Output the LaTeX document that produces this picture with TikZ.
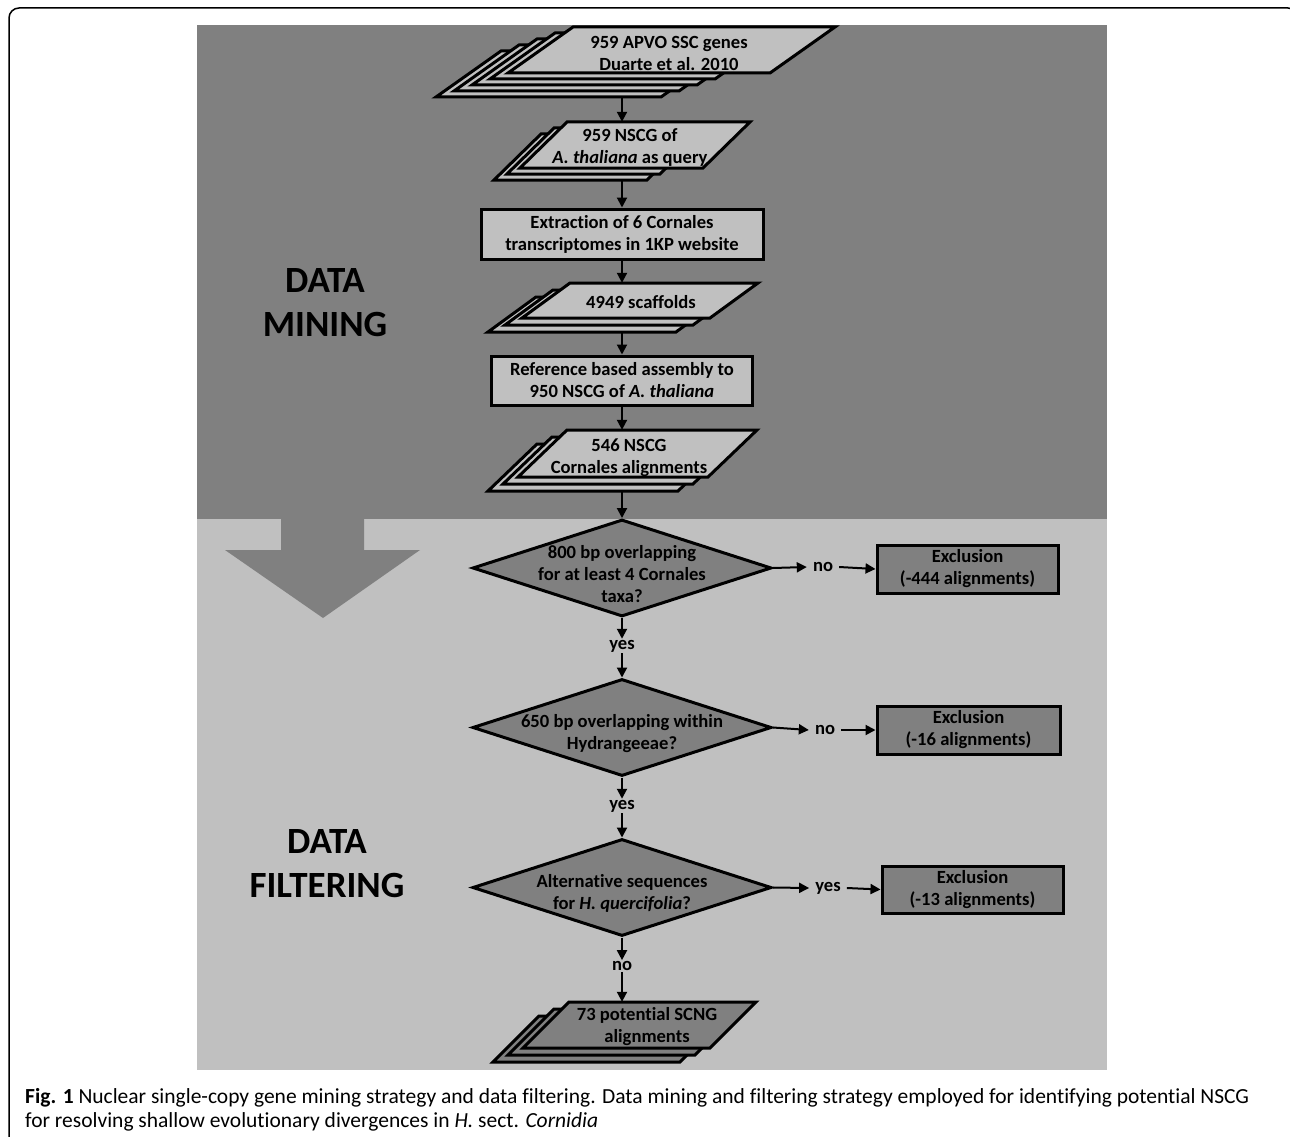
\documentclass[tikz,border=0pt]{standalone}
\usepackage{fontspec}
\setmainfont{Carlito}[Ligatures=NoCommon]
\usepackage{tikz}
\usetikzlibrary{shapes.geometric, arrows.meta}

\definecolor{paneldark}{HTML}{808080}
\definecolor{panellight}{HTML}{C0C0C0}

\newcommand{\boxfont}{\fontsize{18.6}{22}\selectfont\bfseries}

\tikzset{
    sheet/.style={draw=black, line width=3pt, fill=panellight},
    darksheet/.style={sheet, fill=paneldark},
    sheettext/.style={rectangle, inner sep=0pt, align=center, font=\boxfont},
    process/.style={rectangle, draw=black, line width=3pt, fill=panellight, inner sep=0pt, align=center, font=\boxfont},
    exclusion/.style={process, fill=paneldark, minimum width=181pt, minimum height=48pt},
    decision/.style={diamond, draw=black, line width=3pt, fill=paneldark, inner sep=0pt, minimum width=299pt, minimum height=97pt},
    question/.style={sheettext, yshift=-6pt},
    answer/.style={inner xsep=6pt, inner ysep=1pt, font=\boxfont},
    flow/.style={line width=2pt, -{Triangle[length=10pt, width=10pt]}},
    phase/.style={align=center, font=\fontsize{37}{44}\selectfont\bfseries}
}

\begin{document}
\begin{tikzpicture}[x=1pt, y={(0,-1pt)}]
    \useasboundingbox (0,0) rectangle (1290,1137);
    \draw[line width=1.5pt, rounded corners=10pt] (9,1150) -- (9,8) -- (1298,8) -- (1298,1150);

    \fill[paneldark] (197,25) rectangle (1107,519);
    \fill[panellight] (197,519) rectangle (1107,1070);
    \fill[paneldark] (281,519) -- (364,519) -- (364,550) -- (420,550) -- (323,618) -- (225,550) -- (281,550) -- cycle;

    \node[phase] (mining) at (325,303) {DATA\\MINING};
    \node[phase] (filtering) at (327,864) {DATA\\FILTERING};

    \foreach \k in {4,3,2,1}
        \draw[sheet, shift={(-18*\k,6*\k)}] (508,73) -- ++(225,0) -- ++(65,-46) -- ++(-225,0) -- cycle;
    \draw[sheet] (508,73) -- ++(262,0) -- ++(65,-46) -- ++(-262,0) -- cycle;
    \node[sheettext, minimum height=52pt] (genes) at (669,53) {959 APVO SSC genes\\Duarte et al. 2010};
    \coordinate (genes-out) at (622,97);

    \foreach \k in {2,1}
        \draw[sheet, shift={(-13*\k,6*\k)}] (520,168) -- ++(153,0) -- ++(47,-46) -- ++(-153,0) -- cycle;
    \draw[sheet] (520,168) -- ++(183,0) -- ++(47,-46) -- ++(-183,0) -- cycle;
    \node[sheettext, minimum height=52pt] (query) at (630,148) {959 NSCG of\\\textit{A. thaliana} as query};
    \coordinate (query-out) at (622,180);

    \node[process, minimum width=282pt, minimum height=50pt] (extract) at (622,234) {Extraction of 6 Cornales\\transcriptomes in 1KP website};

    \foreach \k in {2,1}
        \draw[sheet, shift={(-17*\k,7*\k)}] (522,318) -- ++(188,0) -- ++(48,-35) -- ++(-188,0) -- cycle;
    \draw[sheet] (522,318) -- ++(188,0) -- ++(48,-35) -- ++(-188,0) -- cycle;
    \node[sheettext, minimum height=39pt] (scaffolds) at (641,302.5) {4949 scaffolds};
    \coordinate (scaffolds-out) at (622,332);

    \node[process, minimum width=261pt, minimum height=49pt] (assembly) at (622,380.5) {Reference based assembly to\\950 NSCG of \textit{A. thaliana}};

    \foreach \k in {2,1}
        \draw[sheet, shift={(-15*\k,7*\k)}] (518,477) -- ++(190,0) -- ++(49,-47) -- ++(-190,0) -- cycle;
    \draw[sheet] (518,477) -- ++(190,0) -- ++(49,-47) -- ++(-190,0) -- cycle;
    \node[sheettext, minimum height=56pt] (cornales) at (629,458) {546 NSCG\\Cornales alignments};
    \coordinate (cornales-out) at (622,491);

    \node[decision, label={[question]center:{800 bp overlapping\\for at least 4 Cornales\\taxa?}}] (overlap800) at (622,568) {};
    \node[answer] (no800) at (823,567) {no};
    \node[exclusion] (excl444) at (967.5,569) {Exclusion\\(-444 alignments)};
    \node[answer] (yes800) at (622,646) {yes};

    \node[decision, label={[question]center:{650 bp overlapping within\\Hydrangeeae?}}] (overlap650) at (622,727.5) {};
    \node[answer] (no650) at (825,730) {no};
    \node[exclusion, minimum width=183pt] (excl16) at (968.5,730) {Exclusion\\(-16 alignments)};
    \node[answer] (yes650) at (622,806) {yes};

    \node[decision, label={[question]center:{Alternative sequences\\for \textit{H. quercifolia}?}}] (altseq) at (622,887.5) {};
    \node[answer] (yesalt) at (828,888) {yes};
    \node[exclusion, minimum height=47pt] (excl13) at (972.5,889.5) {Exclusion\\(-13 alignments)};
    \node[answer] (noalt) at (622,966) {no};

    \foreach \k in {2,1}
        \draw[darksheet, shift={(-15*\k,7*\k)}] (523,1048) -- ++(187,0) -- ++(46,-46) -- ++(-187,0) -- cycle;
    \draw[darksheet] (523,1048) -- ++(187,0) -- ++(46,-46) -- ++(-187,0) -- cycle;
    \node[sheettext, minimum height=50pt] (scng) at (647,1027) {73 potential SCNG\\alignments};

    \draw[flow] (genes-out) -- (genes-out |- query.north);
    \draw[flow] (query-out) -- (query-out |- extract.north);
    \draw[flow] (extract.south) -- (extract.south |- scaffolds.north);
    \draw[flow] (scaffolds-out) -- (scaffolds-out |- assembly.north);
    \draw[flow] (assembly.south) -- (assembly.south |- cornales.north);
    \draw[flow] (cornales-out) -- (overlap800.north);
    \draw[flow] (overlap800.east) -- (no800.west);
    \draw[flow] (no800.east) -- (excl444.west);
    \draw[flow] (overlap800.south) -- (yes800.north);
    \draw[flow] (yes800.south) -- (overlap650.north);
    \draw[flow] (overlap650.east) -- (no650.west);
    \draw[flow] (no650.east) -- (excl16.west);
    \draw[flow] (overlap650.south) -- (yes650.north);
    \draw[flow] (yes650.south) -- (altseq.north);
    \draw[flow] (altseq.east) -- (yesalt.west);
    \draw[flow] (yesalt.east) -- (excl13.west);
    \draw[flow] (altseq.south) -- (noalt.north);
    \draw[flow] (noalt.south) -- (noalt.south |- scng.north);

    \node[anchor=west, align=left, inner sep=0pt, font=\fontsize{21.5}{24}\selectfont] (caption) at (25,1110) {\textbf{Fig. 1} Nuclear single-copy gene mining strategy and data filtering. Data mining and filtering strategy employed for identifying potential NSCG\\for resolving shallow evolutionary divergences in \textit{H.} sect. \textit{Cornidia}};
\end{tikzpicture}
\end{document}
